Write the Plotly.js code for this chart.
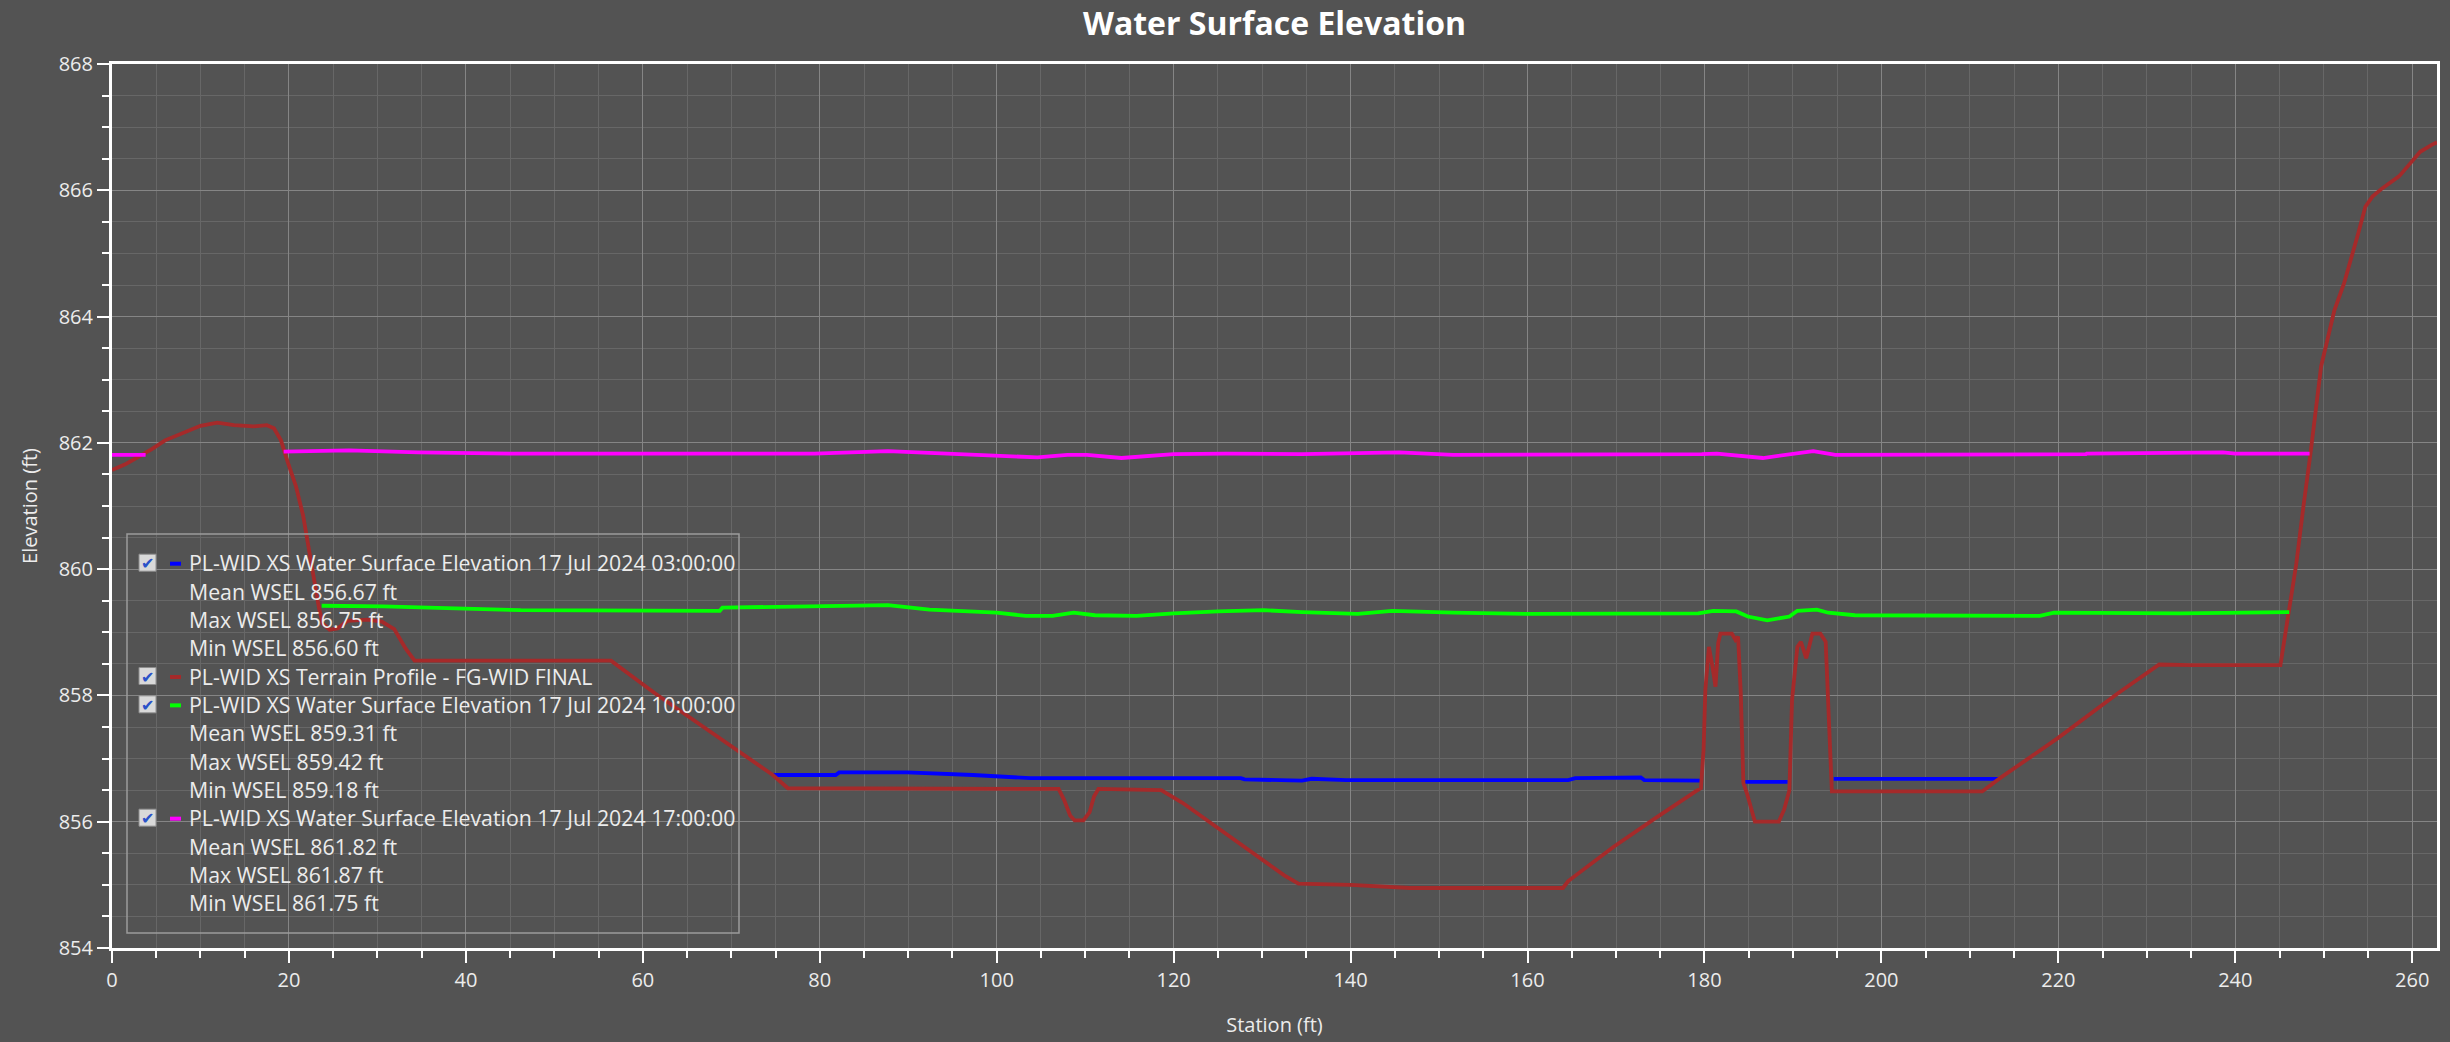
<!DOCTYPE html>
<html>
<head>
<meta charset="utf-8">
<script src="https://cdn.plot.ly/plotly-3.0.1.min.js"></script>
<style>
  html, body { margin: 0; padding: 0; background: #535353; }
  #chart { width: 2450px; height: 1042px; }
</style>
</head>
<body>
<div id="chart"></div>
<script>
// ---------------- DATA ----------------
const chartTitle = 'Water Surface Elevation';
const xAxisTitle = 'Station (ft)';
const yAxisTitle = 'Elevation (ft)';

const seriesNames = [
  'PL-WID XS Water Surface Elevation 17 Jul 2024 03:00:00',
  'PL-WID XS Terrain Profile - FG-WID FINAL',
  'PL-WID XS Water Surface Elevation 17 Jul 2024 10:00:00',
  'PL-WID XS Water Surface Elevation 17 Jul 2024 17:00:00'
];
const seriesColors = ['#0000ff', '#a52a2a', '#00ff00', '#ff00ff'];

// WSEL statistics shown in the legend (per water-surface series, null for terrain)
const meanWsel = [856.67, null, 859.31, 861.82];
const maxWsel  = [856.75, null, 859.42, 861.87];
const minWsel  = [856.60, null, 859.18, 861.75];

// Terrain profile
const terrainStation = [
  0, 1.5, 3.0, 4.5, 6.0, 8.2, 10.0, 11.9, 13.8, 16.0, 17.5, 18.3, 19.1, 19.9, 20.8, 21.6,
  22.5, 23.4, 23.8, 24.6, 25.5, 26.6, 28.9, 30.5, 31.9, 33.2, 34.2, 56.4, 61.4, 66.5, 70.8,
  74.7, 76.4, 107.0, 107.6, 108.3, 108.8, 109.8, 110.5, 111.0, 111.5, 118.6, 121, 124, 127,
  130, 132.5, 134.1, 140, 146.7, 164.0, 164.6, 169.7, 174.5, 177.5, 179.0, 179.6, 179.9,
  180.1, 180.5, 180.9, 181.25, 181.55, 181.8, 183.1, 183.5, 183.8, 184.1, 184.4, 184.8,
  185.7, 188.4, 189.0, 189.6, 189.9, 190.5, 190.9, 191.5, 192.2, 193.1, 193.7, 194.1,
  194.4, 211.4, 213.4, 219.9, 226.7, 231.4, 235.0, 245.1, 246.1, 246.9, 247.7, 248.5,
  249.7, 250.2, 251.2, 252.3, 253.1, 253.9, 254.7, 255.5, 256.6, 258.5, 259.8, 260.9,
  262.2, 262.8
];
const terrainElev = [
  861.57, 861.66, 861.78, 861.90, 862.04, 862.17, 862.27, 862.32, 862.28, 862.26, 862.28,
  862.23, 862.04, 861.68, 861.31, 860.85, 860.10, 859.38, 859.14, 859.04, 859.06, 859.18,
  859.20, 859.17, 859.05, 858.74, 858.55, 858.55, 858.03, 857.53, 857.11, 856.74, 856.53,
  856.52, 856.35, 856.10, 856.02, 856.02, 856.15, 856.40, 856.52, 856.50, 856.30, 856.00,
  855.70, 855.40, 855.15, 855.02, 855.00, 854.95, 854.95, 855.06, 855.60, 856.06, 856.35,
  856.48, 856.53, 857.14, 858.09, 858.77, 858.46, 858.14, 858.83, 858.98, 858.98, 858.88,
  858.93, 858.05, 856.61, 856.45, 856.00, 856.00, 856.19, 856.50, 857.93, 858.77, 858.85,
  858.59, 858.98, 858.98, 858.85, 857.66, 856.48, 856.48, 856.69, 857.32, 858.03, 858.49,
  858.48, 858.48, 859.35, 860.09, 860.99, 861.83, 863.21, 863.52, 864.10, 864.53, 864.90,
  865.32, 865.74, 865.90, 866.03, 866.22, 866.43, 866.61, 866.72, 866.76
];

// WSEL 17 Jul 2024 03:00 (null = line break where terrain is above water)
const wsel03Station = [
  74.7, 81.8, 82.2, 89.9, 97.3, 103.8, 127.6, 128.0, 134.5, 135.6, 139.5, 164.6, 165.4,
  172.8, 173.2, 179.7, null, 184.6, 189.4, null, 194.6, 213.4
];
const wsel03Elev = [
  856.74, 856.74, 856.78, 856.78, 856.74, 856.69, 856.69, 856.67, 856.65, 856.68, 856.66,
  856.66, 856.69, 856.70, 856.66, 856.65, null, 856.63, 856.63, null, 856.68, 856.68
];

// WSEL 17 Jul 2024 10:00
const wsel10Station = [
  23.7, 30.7, 46.2, 66.5, 68.7, 69.0, 83.8, 87.7, 92.4, 100, 103.3, 106.3, 108.7, 111.1,
  115.8, 120, 125, 130.2, 134.5, 136.9, 140.8, 144.7, 151.6, 160.3, 179.3, 181.0, 183.6,
  184.9, 187.1, 189.6, 190.5, 192.7, 194.0, 197.0, 202.1, 217.9, 219.5, 233.8, 246.1
];
const wsel10Elev = [
  859.42, 859.41, 859.35, 859.34, 859.34, 859.39, 859.41, 859.43, 859.36, 859.31, 859.26,
  859.26, 859.31, 859.27, 859.26, 859.30, 859.33, 859.35, 859.32, 859.31, 859.29, 859.34,
  859.31, 859.29, 859.30, 859.34, 859.33, 859.25, 859.19, 859.25, 859.34, 859.36, 859.31,
  859.27, 859.27, 859.26, 859.31, 859.30, 859.32
];

// WSEL 17 Jul 2024 17:00
const wsel17Station = [
  0, 3.8, null, 19.4, 26.8, 34.6, 45, 66.5, 79.4, 87.7, 94.6, 100, 104.6, 108.0, 110.2,
  114.1, 120, 125.9, 134.5, 145.5, 151.6, 179.7, 181.4, 186.6, 192.3, 194.8, 202.1, 223.1,
  223.2, 238.6, 240, 248.4
];
const wsel17Elev = [
  861.81, 861.81, null, 861.86, 861.88, 861.85, 861.83, 861.83, 861.83, 861.87, 861.83,
  861.81, 861.77, 861.81, 861.81, 861.76, 861.82, 861.83, 861.82, 861.85, 861.81, 861.82,
  861.83, 861.76, 861.87, 861.81, 861.81, 861.82, 861.83, 861.85, 861.83, 861.83
];

// ---------------- LAYOUT HELPERS ----------------
const W = 2450, H = 1042;
const plotL = 112, plotR = 2437, plotT = 64, plotB = 948;
const px2x = px => (px - plotL) / (plotR - plotL);
const py2y = py => (plotB - py) / (plotB - plotT);
const FONT = 'Open Sans, Noto Sans, sans-serif';
const TXT = '#ececec';

const lineW = 3.8;
const traces = [
  {x: wsel03Station, y: wsel03Elev, name: seriesNames[0], color: seriesColors[0]},
  {x: terrainStation, y: terrainElev, name: seriesNames[1], color: seriesColors[1]},
  {x: wsel10Station, y: wsel10Elev, name: seriesNames[2], color: seriesColors[2]},
  {x: wsel17Station, y: wsel17Elev, name: seriesNames[3], color: seriesColors[3]}
].map(s => ({
  type: 'scatter', mode: 'lines', x: s.x, y: s.y, name: s.name,
  line: {color: s.color, width: lineW}, connectgaps: false,
  showlegend: false, hoverinfo: 'x+y'
}));

// ---------------- CUSTOM LEGEND ----------------
const shapes = [];
const annotations = [];
const legBox = {x0: 127, x1: 739, y0: 534, y1: 933};
shapes.push({type: 'rect', xref: 'paper', yref: 'paper',
  x0: px2x(legBox.x0), x1: px2x(legBox.x1), y0: py2y(legBox.y1), y1: py2y(legBox.y0),
  line: {color: '#9c9c9c', width: 1.5}, fillcolor: 'rgba(0,0,0,0)'});

const rowStart = 562.7, rowStep = 28.33;
let row = 0;
seriesNames.forEach((nm, i) => {
  const lines = [nm];
  if (meanWsel[i] !== null) {
    lines.push('Mean WSEL ' + meanWsel[i].toFixed(2) + ' ft');
    lines.push('Max WSEL ' + maxWsel[i].toFixed(2) + ' ft');
    lines.push('Min WSEL ' + minWsel[i].toFixed(2) + ' ft');
  }
  lines.forEach((t, k) => {
    const cy = rowStart + row * rowStep;
    if (k === 0) {
      // checkbox
      shapes.push({type: 'rect', xref: 'paper', yref: 'paper',
        x0: px2x(139), x1: px2x(156), y0: py2y(cy + 8.5), y1: py2y(cy - 8.5),
        line: {color: '#8e8e8e', width: 1}, fillcolor: '#d9d9d9'});
      annotations.push({xref: 'paper', yref: 'paper', x: px2x(147.5), y: py2y(cy + 1),
        text: '✔', showarrow: false, xanchor: 'center', yanchor: 'middle',
        font: {family: 'DejaVu Sans', size: 16, color: '#2a52c8'}});
      // colour swatch
      shapes.push({type: 'line', xref: 'paper', yref: 'paper',
        x0: px2x(170), x1: px2x(181), y0: py2y(cy + 1), y1: py2y(cy + 1),
        line: {color: seriesColors[i], width: 4}});
    }
    annotations.push({xref: 'paper', yref: 'paper', x: px2x(187), y: py2y(cy),
      text: t, showarrow: false, xanchor: 'left', yanchor: 'middle',
      font: {family: FONT, size: 21.3, color: TXT}});
    row++;
  });
});

// ---------------- AXES ----------------
const axisCommon = {
  showline: true, linecolor: '#ffffff', linewidth: 3, mirror: true,
  ticks: 'outside', ticklen: 12, tickwidth: 2, tickcolor: '#ffffff',
  showgrid: true, gridcolor: '#858585', gridwidth: 1, zeroline: false,
  tickfont: {family: FONT, size: 20, color: TXT},
  fixedrange: true
};

const layout = {
  width: W, height: H,
  paper_bgcolor: '#535353', plot_bgcolor: '#535353',
  margin: {l: plotL, r: W - plotR, t: plotT, b: H - plotB, pad: 0},
  title: {text: '<b>' + chartTitle + '</b>', x: 0.5, xref: 'paper', xanchor: 'center',
    y: 1 - 24 / H, yref: 'container', yanchor: 'middle',
    font: {family: FONT, size: 32, color: '#ffffff'}},
  showlegend: false,
  xaxis: Object.assign({}, axisCommon, {
    range: [0, 262.8], tick0: 0, dtick: 20,
    minor: {dtick: 5, ticks: 'outside', ticklen: 7, tickwidth: 2, tickcolor: '#ffffff',
      showgrid: true, gridcolor: '#676767', gridwidth: 1},
    title: {text: xAxisTitle, standoff: 26, font: {family: FONT, size: 20, color: TXT}}
  }),
  yaxis: Object.assign({}, axisCommon, {
    range: [854, 868], tick0: 854, dtick: 2,
    minor: {dtick: 0.5, ticks: 'outside', ticklen: 7, tickwidth: 2, tickcolor: '#ffffff',
      showgrid: true, gridcolor: '#676767', gridwidth: 1},
    title: {text: yAxisTitle, standoff: 16, font: {family: FONT, size: 20, color: TXT}}
  }),
  shapes: shapes,
  annotations: annotations
};

Plotly.newPlot('chart', traces, layout, {displayModeBar: false, staticPlot: true});
</script>
</body>
</html>
